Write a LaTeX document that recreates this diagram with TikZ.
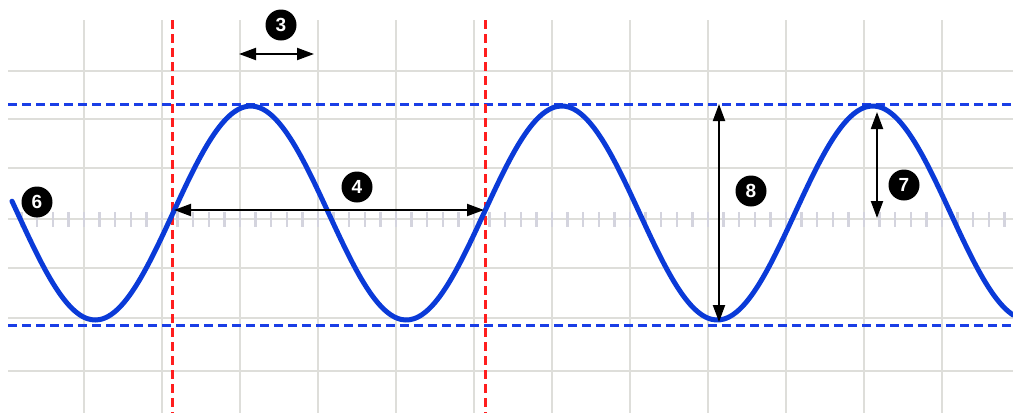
\documentclass[tikz,border=0pt]{standalone}
\usepackage{fontspec}
\setsansfont{Liberation Sans}
\usepackage{xcolor}
\usetikzlibrary{arrows.meta}

\definecolor{gridgray}{HTML}{DEDEDA}
\definecolor{tickgray}{HTML}{D4D4DE}
\definecolor{waveblue}{HTML}{0A3AD8}
\definecolor{guideblue}{HTML}{1A3EE6}
\definecolor{guidered}{HTML}{FF1E1E}

\begin{document}
\begin{tikzpicture}[
  x=1pt, y=-1pt,
  gridline/.style={draw=gridgray, line width=2.7pt},
  minortick/.style={draw=tickgray, line width=2.5pt},
  guide/.style={line width=3pt, dash pattern=on 9pt off 5pt},
  wave/.style={draw=waveblue, line width=5pt, line cap=round},
  dim/.style={{Triangle[length=17pt, width=12pt]}-{Triangle[length=17pt, width=12pt]},
              line width=2pt},
  badge/.style={circle, fill=black, text=white, inner sep=0pt, minimum size=31pt,
                font=\sffamily\bfseries\fontsize{19}{19}\selectfont},
]
\useasboundingbox (0,0) rectangle (1013,413);

% grid
\foreach \y in {71,119,168,219,268,318,371}
  \draw[gridline] (8,\y) -- (1013,\y);
\foreach \i in {0,...,11}
  \draw[gridline] (84+78*\i,20) -- (84+78*\i,413);
\foreach \i in {1,...,64}
  \draw[minortick] (6+15.6*\i,212) -- (6+15.6*\i,227);

% guides
\draw[guide, draw=guideblue] (8,104) -- (1013,104);
\draw[guide, draw=guideblue] (8,325) -- (1013,325);
\draw[guide, draw=guidered] (172,20) -- (172,413);
\draw[guide, draw=guidered] (485,20) -- (485,413);

% signal
\draw[wave] plot[domain=12:1013, samples=240, smooth]
  ({\x},{213-107*sin((\x-173)/311*360)});

% dimensions
\coordinate (w3a) at (239,54);
\coordinate (w3b) at (314,54);
\coordinate (t4a) at (174,210);
\coordinate (t4b) at (484,210);
\coordinate (a7a) at (877,112);
\coordinate (a7b) at (877,218);
\coordinate (a8a) at (719,104);
\coordinate (a8b) at (719,322);

\draw[dim] (w3a) -- (w3b);
\draw[dim] (t4a) -- (t4b);
\draw[dim] (a7a) -- (a7b);
\draw[dim] (a8a) -- (a8b);

\node[badge] (lbl3) at (281,25) {3};
\node[badge] (lbl4) at (357,187) {4};
\node[badge] (lbl6) at (37,202) {6};
\node[badge] (lbl7) at (904,185) {7};
\node[badge] (lbl8) at (751,191) {8};

\end{tikzpicture}
\end{document}
